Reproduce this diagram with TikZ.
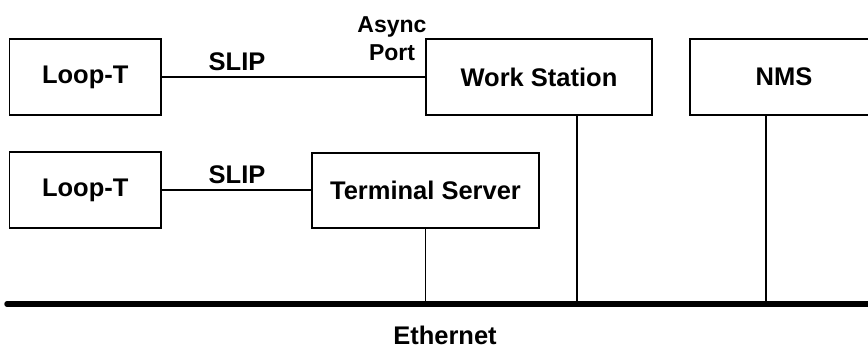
\documentclass[tikz,border=0pt]{standalone}
\usepackage{fontspec}
\setmainfont{Liberation Sans}
\begin{document}
\begin{tikzpicture}[x=1pt, y=-1pt, line width=1.8pt,
    box/.style={draw, inner sep=0pt, font=\fontsize{25.5}{30}\selectfont\bfseries},
    lbl/.style={inner sep=0pt, font=\fontsize{25.5}{30}\selectfont\bfseries}]
      \useasboundingbox (0,0) rectangle (868,349);
      \clip (0,0) rectangle (868,349);
      \node[box, minimum width=151.5pt, minimum height=76pt] (loop1) at (85.25,77){Loop-T};
      \node[box, minimum width=226pt, minimum height=76pt] (station) at (539,77){Work Station};
      \node[box, minimum width=188pt, minimum height=76pt] (nms) at (784,77){NMS};
      \node[box, minimum width=151.5pt, minimum height=76pt] (loop2) at (85.25,190){Loop-T};
      \node[box, minimum width=227pt, minimum height=75pt] (terminal) at (425.5,190.5){Terminal Server};
      \draw[](loop1) -- (station);
      \draw[](loop2.east) -- (loop2.east -| terminal.west);
      \node[lbl] (slip1) at (237,62){SLIP};
      \node[lbl] (slip2) at (237,175){SLIP};
      \node[lbl, align=center, font=\fontsize{23}{28}\selectfont\bfseries] (async) at (392,39){Async\\Port};
      % ethernet bus
      \coordinate (ethA) at (7,304);
      \coordinate (ethB) at (890,304);
      \coordinate (tap1) at (425.5,304);
      \coordinate (tap2) at (577,304);
      \coordinate (tap3) at (766,304);
      \draw[line width=5.5pt, line cap=round](ethA) -- (ethB);
      \draw[](terminal.south) -- (tap1);
      \draw[](station.south -| tap2) -- (tap2);
      \draw[](nms.south -| tap3) -- (tap3);
      \node[lbl] (ether) at (445,335){Ethernet};
    \end{tikzpicture}
\end{document}
